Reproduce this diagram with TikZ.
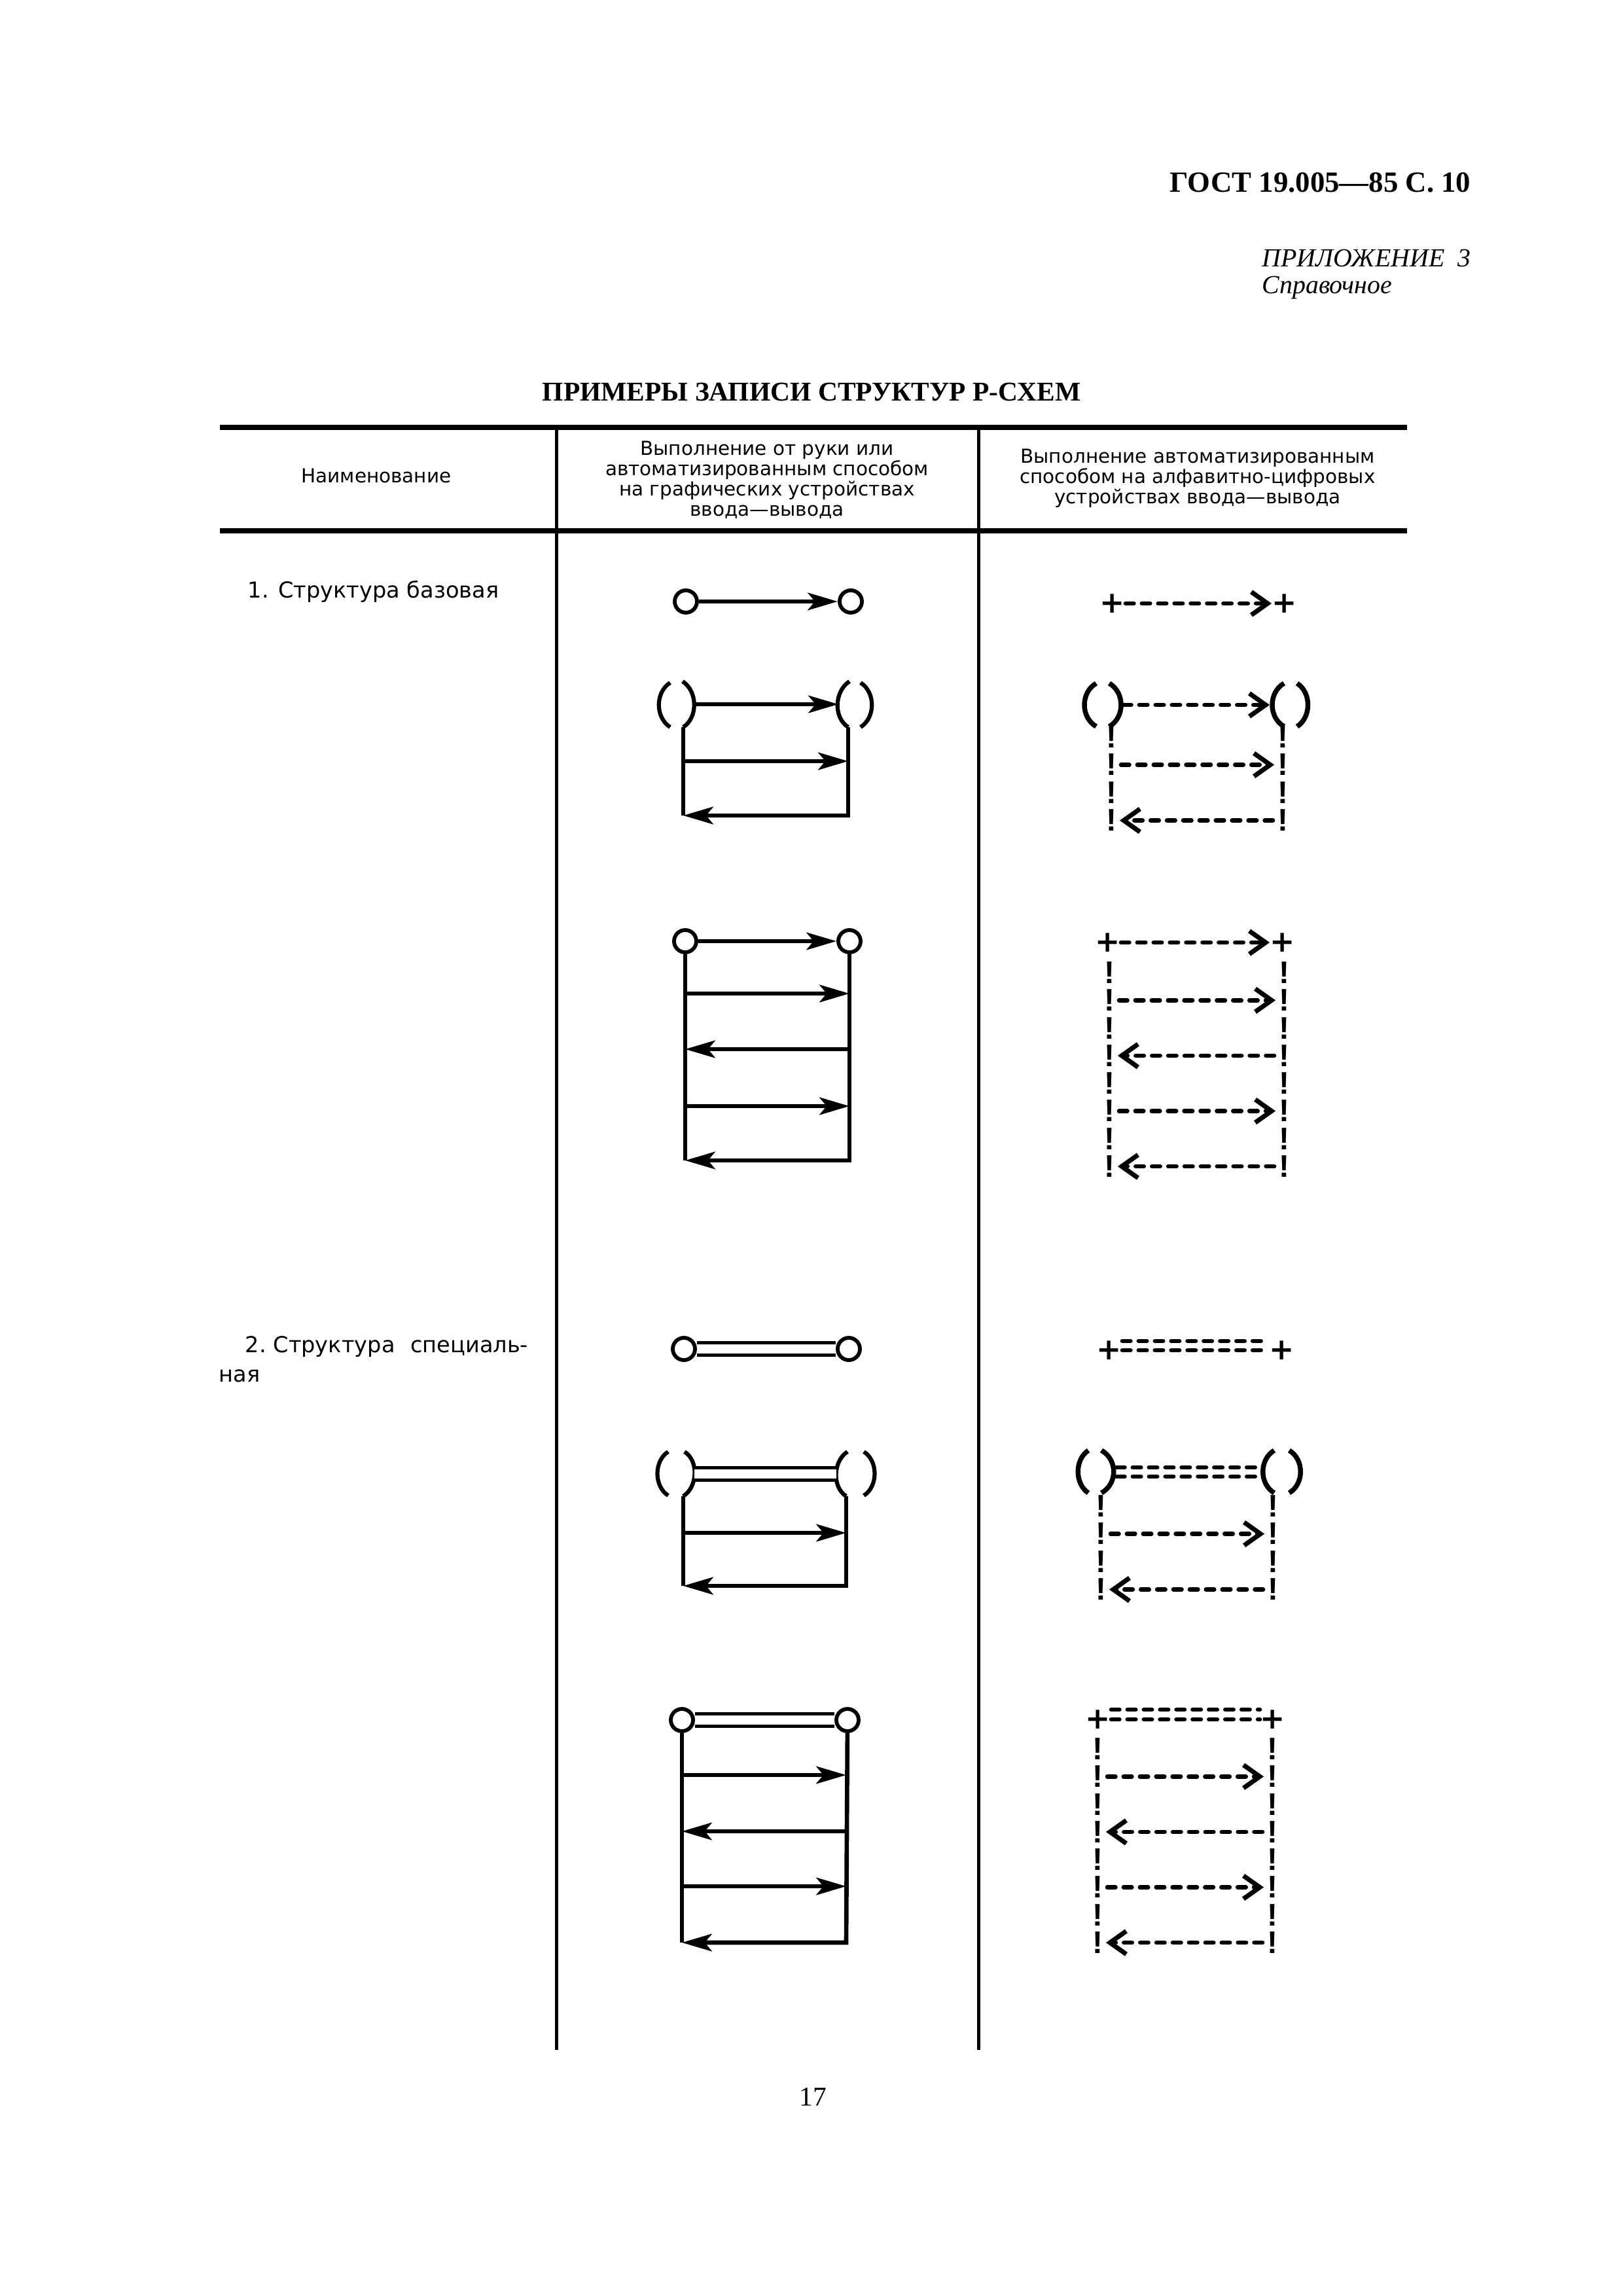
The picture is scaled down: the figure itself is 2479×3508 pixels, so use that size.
\documentclass[tikz,border=0pt]{standalone}
\usepackage{fontspec}
\setmainfont{Liberation Serif}
\newfontfamily\tabfont{DejaVu Sans}
\newfontfamily\bangfont{Liberation Sans}
\usetikzlibrary{arrows.meta, positioning, calc}

\begin{document}
\begin{tikzpicture}[x=0.008471cm, y=-0.008471cm,
  headtext/.style={font=\tabfont\fontsize{7.1}{7.5}\selectfont, align=center, inner sep=0pt},
  bodytext/.style={font=\tabfont\fontsize{8.1}{10}\selectfont, inner sep=0pt, anchor=base west},
  hrule/.style={line width=1.8pt},
  colline/.style={line width=1.2pt},
  wire/.style={line width=1.6pt},
  arr/.style={wire, -{Stealth[length=11pt, width=6.4pt, inset=2.6pt]}},
  ring/.style={circle, draw, line width=1.4pt, minimum size=8.2pt, inner sep=0pt},
  dbl/.style={double, line width=1.4pt, double distance=3.2pt},
  brk/.style={line width=1.5pt},
  cbrk/.style={line width=1.8pt},
  dashrow/.style={line width=1.6pt, dash pattern=on 3pt off 3pt, line cap=round},
  dasharr/.style={dashrow, -{Straight Barb[length=6pt, width=8.5pt, line width=1.7pt]}},
  bangarr/.style={dasharr, shorten <=1.5pt, shorten >=1pt},
  bang/.style={font=\bangfont\bfseries\fontsize{11.5}{11.5}\selectfont, inner sep=0pt},
  plusmark/.style={font=\tabfont\bfseries\fontsize{11}{11}\selectfont, inner sep=0pt}
]
\fill[white] (0,0) rectangle (2479,3508);
\useasboundingbox (0,0) rectangle (2479,3508);

\node[anchor=base east, font=\bfseries\fontsize{10.8}{13}\selectfont] (gost) at (2262,293) {ГОСТ 19.005—85 С. 10};
\node[anchor=base east, font=\itshape\fontsize{9.6}{12}\selectfont] (appx) at (2262,407) {ПРИЛОЖЕНИЕ\ \ 3};
\node[anchor=base west, font=\itshape\fontsize{9.6}{12}\selectfont] (sprav) at ([yshift=-9.9pt]appx.base west) {Справочное};
\node[anchor=base, font=\bfseries\fontsize{10}{12}\selectfont] (title) at (1240,612) {ПРИМЕРЫ ЗАПИСИ СТРУКТУР Р-СХЕМ};
\node[font=\fontsize{10}{12}\selectfont] (pnum) at (1242,3204) {17};

\draw[hrule] (336,653) -- (2150,653);
\draw[hrule] (336,811) -- (2150,811);
\draw[colline] (850,653) -- (850,3132);
\draw[colline] (1495,653) -- (1495,3132);

\node[headtext] (hname) at (575,727) {Наименование};
\node[headtext] (hhand) at (1172,733) {Выполнение от руки или\\автоматизированным способом\\на графических устройствах\\ввода—вывода};
\node[headtext] (hauto) at (1830,731) {Выполнение автоматизированным\\способом на алфавитно-цифровых\\устройствах ввода—вывода};

\node[bodytext] (base) at (378,913) {1. Структура базовая};
\node[bodytext] (spec) at (374,2066) {2.\ Структура\hspace{0.7em}специаль-};
\node[bodytext] (specb) at (334,2111) {ная};

% hand drawn, basic
\node[ring] (a1l) at (1048,919) {};
\node[ring] (a1r) at (1300,919) {};
\draw[arr] (a1l) -- (a1r);

\coordinate (a2lt) at (1043,1041); \coordinate (a2lb) at (1044,1111);
\coordinate (a2rt) at (1298,1041); \coordinate (a2rb) at (1296,1111);
\coordinate (a2lm) at (1061,1076); \coordinate (a2rm) at (1281,1076);
\coordinate (a2l1) at (1044,1163); \coordinate (a2r1) at (1296,1163);
\coordinate (a2l2) at (1044,1246); \coordinate (a2r2) at (1296,1246);
\draw[brk] (1024,1043) .. controls +(-23,15) and +(-23,-15) .. (1024,1111);
\draw[brk] (a2lt) .. controls +(23,15) and +(23,-15) .. (a2lb);
\draw[brk] (a2rt) .. controls +(-23,15) and +(-23,-15) .. (a2rb);
\draw[brk] (1315,1043) .. controls +(23,15) and +(23,-15) .. (1315,1111);
\draw[arr] (a2lm) -- (a2rm);
\draw[wire] (a2lb) -- (a2l2);
\draw[arr] (a2l1) -- (a2r1);
\draw[arr] (a2rb) -- (a2r2) -- (a2l2);

\node[ring] (b1l) at (1047,1438) {};
\node[ring] (b1r) at (1298,1438) {};
\foreach \k/\yy in {1/1518, 2/1603, 3/1690, 4/1773} {
  \coordinate (b1l\k) at (1047,\yy);
  \coordinate (b1r\k) at (1298,\yy);
}
\draw[arr] (b1l) -- (b1r);
\draw[wire] (b1l) -- (b1l4);
\draw[arr] (b1l1) -- (b1r1);
\draw[arr] (b1r2) -- (b1l2);
\draw[arr] (b1l3) -- (b1r3);
\draw[arr] (b1r) -- (b1r4) -- (b1l4);

% hand drawn, special
\node[ring] (c1l) at (1045,2061) {};
\node[ring] (c1r) at (1297,2061) {};
\draw[dbl] (c1l) -- (c1r);

\coordinate (c2lt) at (1046,2218); \coordinate (c2lb) at (1044,2286);
\coordinate (c2rt) at (1295,2218); \coordinate (c2rb) at (1293,2286);
\coordinate (c2lm) at (1061,2252); \coordinate (c2rm) at (1278,2252);
\coordinate (c2l1) at (1044,2342); \coordinate (c2r1) at (1293,2342);
\coordinate (c2l2) at (1044,2423); \coordinate (c2r2) at (1293,2423);
\draw[brk] (1021,2218) .. controls +(-22,14) and +(-22,-14) .. (1021,2285);
\draw[brk] (c2lt) .. controls +(22,14) and +(22,-14) .. (c2lb);
\draw[brk] (c2rt) .. controls +(-22,14) and +(-22,-14) .. (c2rb);
\draw[brk] (1320,2218) .. controls +(22,14) and +(22,-14) .. (1320,2285);
\draw[dbl] (c2lm) -- (c2rm);
\draw[wire] (c2lb) -- (c2l2);
\draw[arr] (c2l1) -- (c2r1);
\draw[arr] (c2rb) -- (c2r2) -- (c2l2);

\node[ring] (d1l) at (1042,2628) {};
\node[ring] (d1r) at (1295,2628) {};
\foreach \k/\yy in {1/2712, 2/2798, 3/2882, 4/2968} {
  \coordinate (d1l\k) at (1042,\yy);
  \coordinate (d1r\k) at (1293,\yy);
}
\draw[dbl] (d1l) -- (d1r);
\draw[wire] (d1l) -- (d1l4);
\draw[arr] (d1l1) -- (d1r1);
\draw[arr] (d1r2) -- (d1l2);
\draw[arr] (d1l3) -- (d1r3);
\draw[arr] (d1r) -- (d1r4) -- (d1l4);

% alphanumeric, basic
\node[plusmark] (e1l) at (1700,922) {+};
\node[plusmark] (e1r) at (1963,922) {+};
\draw[dasharr] (e1l) -- (e1r);

\draw[cbrk] (1675,1044) .. controls +(-24,14) and +(-24,-14) .. (1675,1110);
\draw[cbrk] (1695,1044) .. controls +(24,14) and +(24,-14) .. (1695,1110);
\draw[cbrk] (1962,1044) .. controls +(-24,14) and +(-24,-14) .. (1962,1110);
\draw[cbrk] (1982,1044) .. controls +(22,14) and +(22,-14) .. (1982,1110);
\coordinate (e2lm) at (1716,1077); \coordinate (e2rm) at (1940,1077);
\draw[dasharr] (e2lm) -- (e2rm);
\foreach \i in {0,...,3} {
  \node[bang] (e2bl\i) at (1698,1126+42.5*\i) {!};
  \node[bang] (e2br\i) at (1960,1126+42.5*\i) {!};
}
\draw[bangarr] (e2bl1) -- (e2br1);
\draw[bangarr] (e2br3) -- (e2bl3);

\node[plusmark] (f1l) at (1693,1440) {+};
\node[plusmark] (f1r) at (1960,1440) {+};
\draw[dasharr] (f1l) -- (f1r);
\foreach \i in {0,...,7} {
  \node[bang] (f1bl\i) at (1695,1486+42.3*\i) {!};
  \node[bang] (f1br\i) at (1962,1486+42.3*\i) {!};
}
\draw[bangarr] (f1bl1) -- (f1br1);
\draw[bangarr] (f1br3) -- (f1bl3);
\draw[bangarr] (f1bl5) -- (f1br5);
\draw[bangarr] (f1br7) -- (f1bl7);

% alphanumeric, special
\node[plusmark] (g1l) at (1695,2063) {+};
\node[plusmark] (g1r) at (1959,2063) {+};
\draw[dashrow] (g1l) -- (g1r);
\draw[dashrow] ([yshift=3.4pt]g1l.east) -- ([yshift=3.4pt]g1r.west);

\draw[cbrk] (1663,2216) .. controls +(-21,14) and +(-21,-14) .. (1663,2281);
\draw[cbrk] (1683,2216) .. controls +(25,14) and +(25,-14) .. (1683,2281);
\draw[cbrk] (1947,2216) .. controls +(-23,14) and +(-23,-14) .. (1947,2281);
\draw[cbrk] (1970,2216) .. controls +(23,14) and +(23,-14) .. (1970,2281);
\coordinate (h2la) at (1706,2242); \coordinate (h2ra) at (1927,2242);
\coordinate (h2lb) at (1706,2256); \coordinate (h2rb) at (1927,2256);
\draw[dashrow] (h2la) -- (h2ra);
\draw[dashrow] (h2lb) -- (h2rb);
\foreach \i in {0,...,3} {
  \node[bang] (h2bl\i) at (1682,2301+42.5*\i) {!};
  \node[bang] (h2br\i) at (1945,2301+42.5*\i) {!};
}
\draw[bangarr] (h2bl1) -- (h2br1);
\draw[bangarr] (h2br3) -- (h2bl3);

\node[plusmark] (k1l) at (1678,2627) {+};
\node[plusmark] (k1r) at (1945,2627) {+};
\draw[dashrow] (k1l) -- (k1r);
\draw[dashrow] ([yshift=3.6pt]k1l.east) -- ([yshift=3.6pt]k1r.west);
\foreach \i in {0,...,7} {
  \node[bang] (k1bl\i) at (1677,2672+42.3*\i) {!};
  \node[bang] (k1br\i) at (1944,2672+42.3*\i) {!};
}
\draw[bangarr] (k1bl1) -- (k1br1);
\draw[bangarr] (k1br3) -- (k1bl3);
\draw[bangarr] (k1bl5) -- (k1br5);
\draw[bangarr] (k1br7) -- (k1bl7);
\end{tikzpicture}
\end{document}
